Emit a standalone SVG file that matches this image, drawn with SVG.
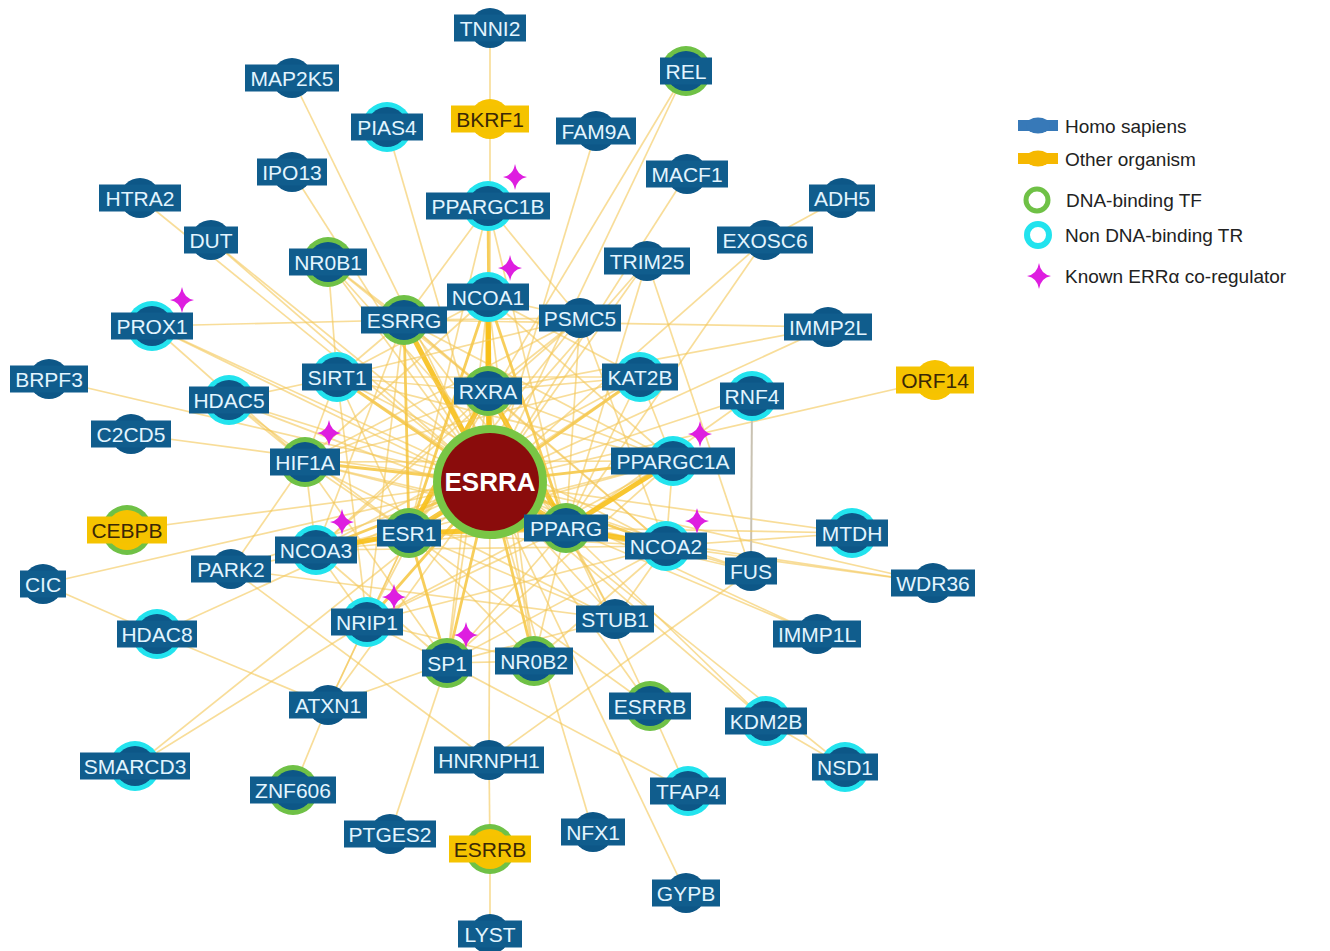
<svg xmlns="http://www.w3.org/2000/svg" width="1330" height="951" viewBox="0 0 1330 951">
<style>
.e{stroke:#f3c85a;stroke-width:1.7;opacity:.62;fill:none}
.m{stroke:#f5c232;stroke-width:2.8;opacity:.8;fill:none}
.k{stroke:#f7c01a;stroke-width:5;opacity:.9;fill:none}
.g{stroke:#c9c2b2;stroke-width:2;fill:none}
.c{fill:#0d5787}
.rg{fill:#6fc146}
.rc{fill:#22e3ee}
.co{fill:#f7c300}
.b{fill:#105d8d}
.bo{fill:#f5c300}
.t{font-family:"Liberation Sans",Arial,sans-serif;font-size:21px;fill:#e3f5ff;text-anchor:middle}
.to{font-family:"Liberation Sans",Arial,sans-serif;font-size:21px;fill:#3a2806;text-anchor:middle}
.lg{font-family:"Liberation Sans",Arial,sans-serif;font-size:19px;fill:#222}
.star{fill:#de1ee0}
</style>
<defs>
<path id="star" d="M0,-13 Q1.8,-1.8 12,0 Q1.8,1.8 0,13 Q-1.8,1.8 -12,0 Q-1.8,-1.8 0,-13Z"/>
</defs>
<rect width="1330" height="951" fill="#ffffff"/>
<g id="connectors">
<!-- to ESRRA -->
<line class="e" x1="292" y1="78" x2="490" y2="482"/>
<line class="e" x1="387" y1="127" x2="490" y2="482"/>
<line class="e" x1="292" y1="172" x2="490" y2="482"/>
<line class="e" x1="140" y1="198" x2="490" y2="482"/>
<line class="e" x1="211" y1="240" x2="490" y2="482"/>
<line class="e" x1="328" y1="262" x2="490" y2="482"/>
<line class="m" x1="488" y1="206" x2="490" y2="482"/>
<line class="e" x1="490" y1="119" x2="490" y2="482"/>
<line class="e" x1="596" y1="131" x2="490" y2="482"/>
<line class="e" x1="686" y1="71" x2="490" y2="482"/>
<line class="e" x1="687" y1="174" x2="490" y2="482"/>
<line class="e" x1="647" y1="261" x2="490" y2="482"/>
<line class="e" x1="765" y1="240" x2="490" y2="482"/>
<line class="e" x1="828" y1="327" x2="490" y2="482"/>
<line class="e" x1="152" y1="326" x2="490" y2="482"/>
<line class="e" x1="49" y1="379" x2="490" y2="482"/>
<line class="m" x1="337" y1="377" x2="490" y2="482"/>
<line class="m" x1="640" y1="377" x2="490" y2="482"/>
<line class="e" x1="229" y1="400" x2="490" y2="482"/>
<line class="e" x1="752" y1="396" x2="490" y2="482"/>
<line class="e" x1="935" y1="380" x2="490" y2="482"/>
<line class="e" x1="131" y1="434" x2="490" y2="482"/>
<line class="m" x1="305" y1="462" x2="490" y2="482"/>
<line class="m" x1="673" y1="461" x2="490" y2="482"/>
<line class="e" x1="127" y1="530" x2="490" y2="482"/>
<line class="m" x1="316" y1="550" x2="490" y2="482"/>
<line class="m" x1="666" y1="546" x2="490" y2="482"/>
<line class="e" x1="852" y1="533" x2="490" y2="482"/>
<line class="e" x1="231" y1="569" x2="490" y2="482"/>
<line class="e" x1="751" y1="571" x2="490" y2="482"/>
<line class="e" x1="43" y1="584" x2="490" y2="482"/>
<line class="e" x1="933" y1="583" x2="490" y2="482"/>
<line class="m" x1="367" y1="622" x2="490" y2="482"/>
<line class="e" x1="615" y1="619" x2="490" y2="482"/>
<line class="e" x1="157" y1="634" x2="490" y2="482"/>
<line class="e" x1="817" y1="634" x2="490" y2="482"/>
<line class="m" x1="447" y1="663" x2="490" y2="482"/>
<line class="m" x1="534" y1="661" x2="490" y2="482"/>
<line class="e" x1="328" y1="705" x2="490" y2="482"/>
<line class="e" x1="650" y1="706" x2="490" y2="482"/>
<line class="e" x1="766" y1="721" x2="490" y2="482"/>
<line class="e" x1="135" y1="766" x2="490" y2="482"/>
<line class="e" x1="489" y1="760" x2="490" y2="482"/>
<line class="e" x1="845" y1="767" x2="490" y2="482"/>
<line class="e" x1="593" y1="832" x2="490" y2="482"/>
<line class="e" x1="686" y1="893" x2="490" y2="482"/>
<line class="k" x1="488" y1="297" x2="490" y2="482"/>
<line class="k" x1="404" y1="320" x2="490" y2="482"/>
<line class="k" x1="488" y1="391" x2="490" y2="482"/>
<line class="k" x1="409" y1="533" x2="490" y2="482"/>
<line class="k" x1="566" y1="528" x2="490" y2="482"/>
<!-- outer links -->
<line class="e" x1="490" y1="28" x2="490" y2="119"/>
<line class="e" x1="490" y1="849" x2="489" y2="760"/>
<line class="e" x1="490" y1="849" x2="490" y2="934"/>
<line class="e" x1="842" y1="198" x2="765" y2="240"/>
<line class="e" x1="293" y1="790" x2="328" y2="705"/>
<line class="e" x1="390" y1="834" x2="447" y2="663"/>
<line class="e" x1="688" y1="791" x2="650" y2="706"/>
<line class="e" x1="688" y1="791" x2="447" y2="663"/>
<line class="e" x1="766" y1="721" x2="845" y2="767"/>
<line class="e" x1="766" y1="721" x2="566" y2="528"/>
<line class="g" x1="751" y1="571" x2="752" y2="396"/>
<line class="e" x1="751" y1="571" x2="647" y2="261"/>
<line class="e" x1="751" y1="571" x2="489" y2="760"/>
<line class="e" x1="751" y1="571" x2="666" y2="546"/>
<line class="e" x1="751" y1="571" x2="566" y2="528"/>
<line class="e" x1="157" y1="634" x2="43" y2="584"/>
<line class="e" x1="157" y1="634" x2="328" y2="705"/>
<line class="e" x1="328" y1="705" x2="447" y2="663"/>
<line class="e" x1="328" y1="705" x2="367" y2="622"/>
<line class="e" x1="328" y1="705" x2="409" y2="533"/>
<line class="e" x1="135" y1="766" x2="367" y2="622"/>
<line class="e" x1="231" y1="569" x2="615" y2="619"/>
<line class="e" x1="231" y1="569" x2="305" y2="462"/>
<line class="e" x1="231" y1="569" x2="409" y2="533"/>
<line class="e" x1="231" y1="569" x2="489" y2="760"/>
<line class="e" x1="650" y1="706" x2="566" y2="528"/>
<line class="e" x1="650" y1="706" x2="409" y2="533"/>
<line class="e" x1="852" y1="533" x2="566" y2="528"/>
<line class="e" x1="852" y1="533" x2="666" y2="546"/>
<line class="e" x1="933" y1="583" x2="666" y2="546"/>
<line class="e" x1="933" y1="583" x2="566" y2="528"/>
<line class="e" x1="817" y1="634" x2="566" y2="528"/>
<line class="e" x1="828" y1="327" x2="488" y2="391"/>
<line class="e" x1="828" y1="327" x2="404" y2="320"/>
<line class="e" x1="765" y1="240" x2="566" y2="528"/>
<line class="e" x1="647" y1="261" x2="566" y2="528"/>
<line class="e" x1="647" y1="261" x2="409" y2="533"/>
<line class="e" x1="752" y1="396" x2="566" y2="528"/>
<line class="e" x1="686" y1="71" x2="409" y2="533"/>
<line class="e" x1="211" y1="240" x2="566" y2="528"/>
<line class="e" x1="328" y1="262" x2="404" y2="320"/>
<line class="e" x1="328" y1="262" x2="337" y2="377"/>
<line class="e" x1="328" y1="262" x2="488" y2="391"/>
<line class="e" x1="328" y1="262" x2="566" y2="528"/>
<line class="e" x1="488" y1="206" x2="404" y2="320"/>
<line class="e" x1="488" y1="206" x2="566" y2="528"/>
<line class="e" x1="488" y1="206" x2="409" y2="533"/>
<line class="e" x1="488" y1="206" x2="580" y2="318"/>
<line class="e" x1="152" y1="326" x2="404" y2="320"/>
<line class="e" x1="152" y1="326" x2="305" y2="462"/>
<line class="e" x1="152" y1="326" x2="566" y2="528"/>
<line class="e" x1="229" y1="400" x2="305" y2="462"/>
<line class="e" x1="229" y1="400" x2="409" y2="533"/>
<line class="e" x1="229" y1="400" x2="566" y2="528"/>
<line class="e" x1="229" y1="400" x2="337" y2="377"/>
<!-- inner mesh -->
<line class="e" x1="404" y1="320" x2="488" y2="297"/>
<line class="e" x1="404" y1="320" x2="488" y2="391"/>
<line class="m" x1="404" y1="320" x2="409" y2="533"/>
<line class="e" x1="404" y1="320" x2="566" y2="528"/>
<line class="e" x1="404" y1="320" x2="316" y2="550"/>
<line class="e" x1="404" y1="320" x2="367" y2="622"/>
<line class="e" x1="404" y1="320" x2="580" y2="318"/>
<line class="e" x1="404" y1="320" x2="337" y2="377"/>
<line class="e" x1="404" y1="320" x2="673" y2="461"/>
<line class="e" x1="404" y1="320" x2="666" y2="546"/>
<line class="k" x1="488" y1="297" x2="488" y2="391"/>
<line class="m" x1="488" y1="297" x2="409" y2="533"/>
<line class="m" x1="488" y1="297" x2="566" y2="528"/>
<line class="e" x1="488" y1="297" x2="305" y2="462"/>
<line class="e" x1="488" y1="297" x2="337" y2="377"/>
<line class="e" x1="488" y1="297" x2="640" y2="377"/>
<line class="e" x1="488" y1="297" x2="534" y2="661"/>
<line class="e" x1="488" y1="297" x2="447" y2="663"/>
<line class="e" x1="488" y1="297" x2="580" y2="318"/>
<line class="e" x1="488" y1="297" x2="673" y2="461"/>
<line class="e" x1="580" y1="318" x2="488" y2="391"/>
<line class="e" x1="580" y1="318" x2="409" y2="533"/>
<line class="e" x1="580" y1="318" x2="566" y2="528"/>
<line class="e" x1="580" y1="318" x2="305" y2="462"/>
<line class="e" x1="580" y1="318" x2="316" y2="550"/>
<line class="e" x1="580" y1="318" x2="337" y2="377"/>
<line class="e" x1="580" y1="318" x2="666" y2="546"/>
<line class="e" x1="337" y1="377" x2="488" y2="391"/>
<line class="e" x1="337" y1="377" x2="409" y2="533"/>
<line class="e" x1="337" y1="377" x2="566" y2="528"/>
<line class="e" x1="337" y1="377" x2="673" y2="461"/>
<line class="e" x1="337" y1="377" x2="305" y2="462"/>
<line class="e" x1="337" y1="377" x2="666" y2="546"/>
<line class="e" x1="337" y1="377" x2="367" y2="622"/>
<line class="e" x1="337" y1="377" x2="640" y2="377"/>
<line class="k" x1="488" y1="391" x2="409" y2="533"/>
<line class="k" x1="488" y1="391" x2="566" y2="528"/>
<line class="e" x1="488" y1="391" x2="673" y2="461"/>
<line class="e" x1="488" y1="391" x2="666" y2="546"/>
<line class="e" x1="488" y1="391" x2="316" y2="550"/>
<line class="e" x1="488" y1="391" x2="367" y2="622"/>
<line class="e" x1="488" y1="391" x2="305" y2="462"/>
<line class="e" x1="488" y1="391" x2="640" y2="377"/>
<line class="e" x1="488" y1="391" x2="447" y2="663"/>
<line class="e" x1="488" y1="391" x2="534" y2="661"/>
<line class="e" x1="488" y1="391" x2="615" y2="619"/>
<line class="e" x1="640" y1="377" x2="673" y2="461"/>
<line class="e" x1="640" y1="377" x2="566" y2="528"/>
<line class="e" x1="640" y1="377" x2="409" y2="533"/>
<line class="e" x1="640" y1="377" x2="305" y2="462"/>
<line class="e" x1="640" y1="377" x2="316" y2="550"/>
<line class="e" x1="305" y1="462" x2="409" y2="533"/>
<line class="e" x1="305" y1="462" x2="566" y2="528"/>
<line class="e" x1="305" y1="462" x2="316" y2="550"/>
<line class="e" x1="305" y1="462" x2="447" y2="663"/>
<line class="e" x1="305" y1="462" x2="666" y2="546"/>
<line class="e" x1="305" y1="462" x2="673" y2="461"/>
<line class="e" x1="305" y1="462" x2="615" y2="619"/>
<line class="k" x1="673" y1="461" x2="566" y2="528"/>
<line class="e" x1="673" y1="461" x2="409" y2="533"/>
<line class="e" x1="673" y1="461" x2="666" y2="546"/>
<line class="e" x1="673" y1="461" x2="367" y2="622"/>
<line class="e" x1="673" y1="461" x2="316" y2="550"/>
<line class="e" x1="673" y1="461" x2="447" y2="663"/>
<line class="k" x1="409" y1="533" x2="566" y2="528"/>
<line class="k" x1="409" y1="533" x2="316" y2="550"/>
<line class="e" x1="409" y1="533" x2="666" y2="546"/>
<line class="e" x1="409" y1="533" x2="367" y2="622"/>
<line class="m" x1="409" y1="533" x2="447" y2="663"/>
<line class="e" x1="409" y1="533" x2="534" y2="661"/>
<line class="e" x1="409" y1="533" x2="615" y2="619"/>
<line class="k" x1="566" y1="528" x2="666" y2="546"/>
<line class="e" x1="566" y1="528" x2="316" y2="550"/>
<line class="e" x1="566" y1="528" x2="367" y2="622"/>
<line class="e" x1="566" y1="528" x2="447" y2="663"/>
<line class="e" x1="566" y1="528" x2="534" y2="661"/>
<line class="e" x1="566" y1="528" x2="615" y2="619"/>
<line class="e" x1="316" y1="550" x2="666" y2="546"/>
<line class="e" x1="316" y1="550" x2="367" y2="622"/>
<line class="e" x1="316" y1="550" x2="447" y2="663"/>
<line class="e" x1="666" y1="546" x2="367" y2="622"/>
<line class="e" x1="666" y1="546" x2="447" y2="663"/>
<line class="e" x1="666" y1="546" x2="534" y2="661"/>
<line class="e" x1="666" y1="546" x2="615" y2="619"/>
<line class="e" x1="367" y1="622" x2="447" y2="663"/>
<line class="e" x1="367" y1="622" x2="534" y2="661"/>
<line class="e" x1="447" y1="663" x2="534" y2="661"/>
<line class="e" x1="447" y1="663" x2="615" y2="619"/>
</g>
<g id="nodes">
<g id="n-TNNI2" transform="translate(490,28)"><circle class="c" r="20"/><rect class="b" x="-36" y="-13.5" width="72" height="27"/><text class="t" y="7.5">TNNI2</text></g>
<g id="n-MAP2K5" transform="translate(292,78)"><circle class="c" r="20"/><rect class="b" x="-47" y="-13.5" width="94" height="27"/><text class="t" y="7.5">MAP2K5</text></g>
<g id="n-REL" transform="translate(686,71)"><circle class="rg" r="25"/><circle class="c" r="20"/><rect class="b" x="-26" y="-13.5" width="52" height="27"/><text class="t" y="7.5">REL</text></g>
<g id="n-PIAS4" transform="translate(387,127)"><circle class="rc" r="25"/><circle class="c" r="20"/><rect class="b" x="-36" y="-13.5" width="72" height="27"/><text class="t" y="7.5">PIAS4</text></g>
<g id="n-BKRF1" transform="translate(490,119)"><circle class="co" r="20"/><rect class="bo" x="-39" y="-13.5" width="78" height="27"/><text class="to" y="7.5">BKRF1</text></g>
<g id="n-FAM9A" transform="translate(596,131)"><circle class="c" r="20"/><rect class="b" x="-40" y="-13.5" width="80" height="27"/><text class="t" y="7.5">FAM9A</text></g>
<g id="n-IPO13" transform="translate(292,172)"><circle class="c" r="20"/><rect class="b" x="-35" y="-13.5" width="70" height="27"/><text class="t" y="7.5">IPO13</text></g>
<g id="n-MACF1" transform="translate(687,174)"><circle class="c" r="20"/><rect class="b" x="-41" y="-13.5" width="82" height="27"/><text class="t" y="7.5">MACF1</text></g>
<g id="n-HTRA2" transform="translate(140,198)"><circle class="c" r="20"/><rect class="b" x="-41" y="-13.5" width="82" height="27"/><text class="t" y="7.5">HTRA2</text></g>
<g id="n-ADH5" transform="translate(842,198)"><circle class="c" r="20"/><rect class="b" x="-33" y="-13.5" width="66" height="27"/><text class="t" y="7.5">ADH5</text></g>
<g id="n-PPARGC1B" transform="translate(488,206)"><circle class="rc" r="25"/><circle class="c" r="20"/><rect class="b" x="-62" y="-13.5" width="124" height="27"/><text class="t" y="7.5">PPARGC1B</text></g>
<g id="n-DUT" transform="translate(211,240)"><circle class="c" r="20"/><rect class="b" x="-27" y="-13.5" width="54" height="27"/><text class="t" y="7.5">DUT</text></g>
<g id="n-EXOSC6" transform="translate(765,240)"><circle class="c" r="20"/><rect class="b" x="-48" y="-13.5" width="96" height="27"/><text class="t" y="7.5">EXOSC6</text></g>
<g id="n-NR0B1" transform="translate(328,262)"><circle class="rg" r="25"/><circle class="c" r="20"/><rect class="b" x="-39" y="-13.5" width="78" height="27"/><text class="t" y="7.5">NR0B1</text></g>
<g id="n-TRIM25" transform="translate(647,261)"><circle class="c" r="20"/><rect class="b" x="-43" y="-13.5" width="86" height="27"/><text class="t" y="7.5">TRIM25</text></g>
<g id="n-NCOA1" transform="translate(488,297)"><circle class="rc" r="25"/><circle class="c" r="20"/><rect class="b" x="-41" y="-13.5" width="82" height="27"/><text class="t" y="7.5">NCOA1</text></g>
<g id="n-PROX1" transform="translate(152,326)"><circle class="rc" r="25"/><circle class="c" r="20"/><rect class="b" x="-41" y="-13.5" width="82" height="27"/><text class="t" y="7.5">PROX1</text></g>
<g id="n-ESRRG" transform="translate(404,320)"><circle class="rg" r="25"/><circle class="c" r="20"/><rect class="b" x="-43" y="-13.5" width="86" height="27"/><text class="t" y="7.5">ESRRG</text></g>
<g id="n-PSMC5" transform="translate(580,318)"><circle class="c" r="20"/><rect class="b" x="-41" y="-13.5" width="82" height="27"/><text class="t" y="7.5">PSMC5</text></g>
<g id="n-IMMP2L" transform="translate(828,327)"><circle class="c" r="20"/><rect class="b" x="-44" y="-13.5" width="88" height="27"/><text class="t" y="7.5">IMMP2L</text></g>
<g id="n-BRPF3" transform="translate(49,379)"><circle class="c" r="20"/><rect class="b" x="-39" y="-13.5" width="78" height="27"/><text class="t" y="7.5">BRPF3</text></g>
<g id="n-SIRT1" transform="translate(337,377)"><circle class="rc" r="25"/><circle class="c" r="20"/><rect class="b" x="-35" y="-13.5" width="70" height="27"/><text class="t" y="7.5">SIRT1</text></g>
<g id="n-RXRA" transform="translate(488,391)"><circle class="rg" r="25"/><circle class="c" r="20"/><rect class="b" x="-34" y="-13.5" width="68" height="27"/><text class="t" y="7.5">RXRA</text></g>
<g id="n-KAT2B" transform="translate(640,377)"><circle class="rc" r="25"/><circle class="c" r="20"/><rect class="b" x="-38" y="-13.5" width="76" height="27"/><text class="t" y="7.5">KAT2B</text></g>
<g id="n-ORF14" transform="translate(935,380)"><circle class="co" r="20"/><rect class="bo" x="-39" y="-13.5" width="78" height="27"/><text class="to" y="7.5">ORF14</text></g>
<g id="n-HDAC5" transform="translate(229,400)"><circle class="rc" r="25"/><circle class="c" r="20"/><rect class="b" x="-40" y="-13.5" width="80" height="27"/><text class="t" y="7.5">HDAC5</text></g>
<g id="n-RNF4" transform="translate(752,396)"><circle class="rc" r="25"/><circle class="c" r="20"/><rect class="b" x="-32" y="-13.5" width="64" height="27"/><text class="t" y="7.5">RNF4</text></g>
<g id="n-C2CD5" transform="translate(131,434)"><circle class="c" r="20"/><rect class="b" x="-40" y="-13.5" width="80" height="27"/><text class="t" y="7.5">C2CD5</text></g>
<g id="n-HIF1A" transform="translate(305,462)"><circle class="rg" r="25"/><circle class="c" r="20"/><rect class="b" x="-35" y="-13.5" width="70" height="27"/><text class="t" y="7.5">HIF1A</text></g>
<g id="n-PPARGC1A" transform="translate(673,461)"><circle class="rc" r="25"/><circle class="c" r="20"/><rect class="b" x="-62" y="-13.5" width="124" height="27"/><text class="t" y="7.5">PPARGC1A</text></g>
<g id="n-ESRRA" transform="translate(490,482)"><circle r="57" fill="#79c645"/><circle r="49" fill="#8a0c0c"/><text y="9" text-anchor="middle" font-family="Liberation Sans, Arial, sans-serif" font-size="26" font-weight="bold" fill="#ffffff">ESRRA</text></g>
<g id="n-CEBPB" transform="translate(127,530)"><circle class="rg" r="25"/><circle class="co" r="20"/><rect class="bo" x="-40" y="-13.5" width="80" height="27"/><text class="to" y="7.5">CEBPB</text></g>
<g id="n-ESR1" transform="translate(409,533)"><circle class="rg" r="25"/><circle class="c" r="20"/><rect class="b" x="-32" y="-13.5" width="64" height="27"/><text class="t" y="7.5">ESR1</text></g>
<g id="n-PPARG" transform="translate(566,528)"><circle class="rg" r="25"/><circle class="c" r="20"/><rect class="b" x="-42" y="-13.5" width="84" height="27"/><text class="t" y="7.5">PPARG</text></g>
<g id="n-NCOA3" transform="translate(316,550)"><circle class="rc" r="25"/><circle class="c" r="20"/><rect class="b" x="-41" y="-13.5" width="82" height="27"/><text class="t" y="7.5">NCOA3</text></g>
<g id="n-NCOA2" transform="translate(666,546)"><circle class="rc" r="25"/><circle class="c" r="20"/><rect class="b" x="-41" y="-13.5" width="82" height="27"/><text class="t" y="7.5">NCOA2</text></g>
<g id="n-MTDH" transform="translate(852,533)"><circle class="rc" r="25"/><circle class="c" r="20"/><rect class="b" x="-36" y="-13.5" width="72" height="27"/><text class="t" y="7.5">MTDH</text></g>
<g id="n-PARK2" transform="translate(231,569)"><circle class="c" r="20"/><rect class="b" x="-40" y="-13.5" width="80" height="27"/><text class="t" y="7.5">PARK2</text></g>
<g id="n-FUS" transform="translate(751,571)"><circle class="c" r="20"/><rect class="b" x="-26" y="-13.5" width="52" height="27"/><text class="t" y="7.5">FUS</text></g>
<g id="n-CIC" transform="translate(43,584)"><circle class="c" r="20"/><rect class="b" x="-23" y="-13.5" width="46" height="27"/><text class="t" y="7.5">CIC</text></g>
<g id="n-WDR36" transform="translate(933,583)"><circle class="c" r="20"/><rect class="b" x="-42" y="-13.5" width="84" height="27"/><text class="t" y="7.5">WDR36</text></g>
<g id="n-NRIP1" transform="translate(367,622)"><circle class="rc" r="25"/><circle class="c" r="20"/><rect class="b" x="-36" y="-13.5" width="72" height="27"/><text class="t" y="7.5">NRIP1</text></g>
<g id="n-STUB1" transform="translate(615,619)"><circle class="c" r="20"/><rect class="b" x="-39" y="-13.5" width="78" height="27"/><text class="t" y="7.5">STUB1</text></g>
<g id="n-HDAC8" transform="translate(157,634)"><circle class="rc" r="25"/><circle class="c" r="20"/><rect class="b" x="-40" y="-13.5" width="80" height="27"/><text class="t" y="7.5">HDAC8</text></g>
<g id="n-IMMP1L" transform="translate(817,634)"><circle class="c" r="20"/><rect class="b" x="-44" y="-13.5" width="88" height="27"/><text class="t" y="7.5">IMMP1L</text></g>
<g id="n-SP1" transform="translate(447,663)"><circle class="rg" r="25"/><circle class="c" r="20"/><rect class="b" x="-25" y="-13.5" width="50" height="27"/><text class="t" y="7.5">SP1</text></g>
<g id="n-NR0B2" transform="translate(534,661)"><circle class="rg" r="25"/><circle class="c" r="20"/><rect class="b" x="-39" y="-13.5" width="78" height="27"/><text class="t" y="7.5">NR0B2</text></g>
<g id="n-ATXN1" transform="translate(328,705)"><circle class="c" r="20"/><rect class="b" x="-39" y="-13.5" width="78" height="27"/><text class="t" y="7.5">ATXN1</text></g>
<g id="n-ESRRB-h" transform="translate(650,706)"><circle class="rg" r="25"/><circle class="c" r="20"/><rect class="b" x="-41" y="-13.5" width="82" height="27"/><text class="t" y="7.5">ESRRB</text></g>
<g id="n-KDM2B" transform="translate(766,721)"><circle class="rc" r="25"/><circle class="c" r="20"/><rect class="b" x="-41" y="-13.5" width="82" height="27"/><text class="t" y="7.5">KDM2B</text></g>
<g id="n-SMARCD3" transform="translate(135,766)"><circle class="rc" r="25"/><circle class="c" r="20"/><rect class="b" x="-55" y="-13.5" width="110" height="27"/><text class="t" y="7.5">SMARCD3</text></g>
<g id="n-HNRNPH1" transform="translate(489,760)"><circle class="c" r="20"/><rect class="b" x="-55" y="-13.5" width="110" height="27"/><text class="t" y="7.5">HNRNPH1</text></g>
<g id="n-NSD1" transform="translate(845,767)"><circle class="rc" r="25"/><circle class="c" r="20"/><rect class="b" x="-33" y="-13.5" width="66" height="27"/><text class="t" y="7.5">NSD1</text></g>
<g id="n-ZNF606" transform="translate(293,790)"><circle class="rg" r="25"/><circle class="c" r="20"/><rect class="b" x="-43" y="-13.5" width="86" height="27"/><text class="t" y="7.5">ZNF606</text></g>
<g id="n-TFAP4" transform="translate(688,791)"><circle class="rc" r="25"/><circle class="c" r="20"/><rect class="b" x="-38" y="-13.5" width="76" height="27"/><text class="t" y="7.5">TFAP4</text></g>
<g id="n-PTGES2" transform="translate(390,834)"><circle class="c" r="20"/><rect class="b" x="-46" y="-13.5" width="92" height="27"/><text class="t" y="7.5">PTGES2</text></g>
<g id="n-NFX1" transform="translate(593,832)"><circle class="c" r="20"/><rect class="b" x="-32" y="-13.5" width="64" height="27"/><text class="t" y="7.5">NFX1</text></g>
<g id="n-ESRRB-o" transform="translate(490,849)"><circle class="rg" r="25"/><circle class="co" r="20"/><rect class="bo" x="-41" y="-13.5" width="82" height="27"/><text class="to" y="7.5">ESRRB</text></g>
<g id="n-GYPB" transform="translate(686,893)"><circle class="c" r="20"/><rect class="b" x="-34" y="-13.5" width="68" height="27"/><text class="t" y="7.5">GYPB</text></g>
<g id="n-LYST" transform="translate(490,934)"><circle class="c" r="20"/><rect class="b" x="-32" y="-13.5" width="64" height="27"/><text class="t" y="7.5">LYST</text></g>
</g>
<g id="coregulator-stars">
<use href="#star" class="star" x="515" y="177"/>
<use href="#star" class="star" x="510" y="268"/>
<use href="#star" class="star" x="182" y="300"/>
<use href="#star" class="star" x="329" y="433"/>
<use href="#star" class="star" x="700" y="434"/>
<use href="#star" class="star" x="342" y="522"/>
<use href="#star" class="star" x="697" y="521"/>
<use href="#star" class="star" x="394" y="597"/>
<use href="#star" class="star" x="466" y="635"/>
</g>
<g id="legend">
<rect x="1018" y="120" width="40" height="11" fill="#3779b8"/>
<ellipse cx="1038" cy="125.5" rx="12" ry="8" fill="#3779b8"/>
<text class="lg" x="1065" y="133">Homo sapiens</text>
<rect x="1018" y="153" width="40" height="11" fill="#f6b800"/>
<ellipse cx="1038" cy="158.5" rx="12" ry="8" fill="#f6b800"/>
<text class="lg" x="1065" y="166">Other organism</text>
<circle cx="1037" cy="200" r="11" fill="#ffffff" stroke="#6fc146" stroke-width="5"/>
<text class="lg" x="1066" y="207">DNA-binding TF</text>
<circle cx="1038" cy="235" r="11" fill="#ffffff" stroke="#22e3ee" stroke-width="6"/>
<text class="lg" x="1065" y="242">Non DNA-binding TR</text>
<use href="#star" class="star" x="1039" y="276"/>
<text class="lg" x="1065" y="283">Known ERRα co-regulator</text>
</g>
</svg>
